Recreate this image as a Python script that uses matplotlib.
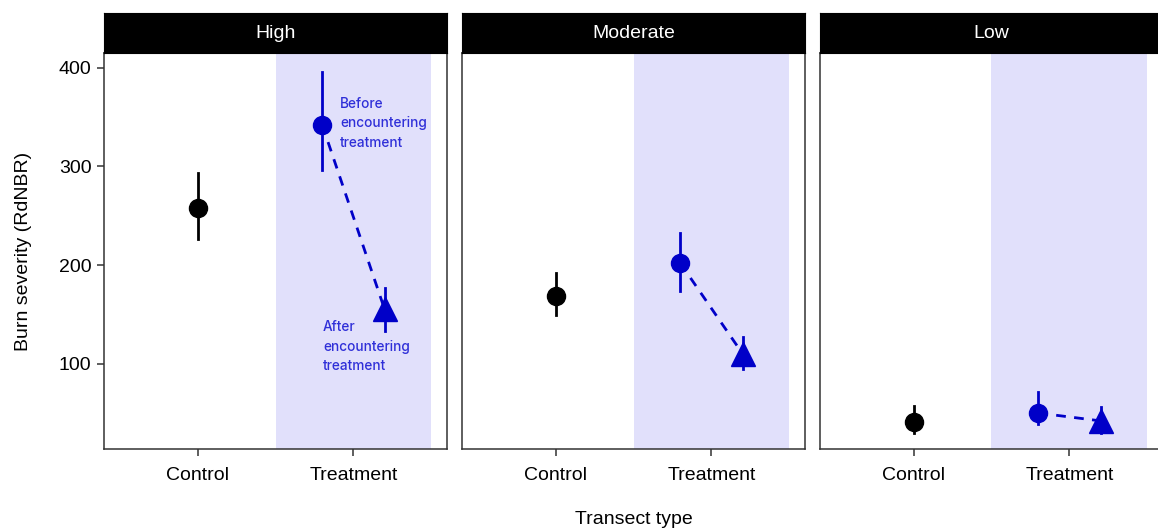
import matplotlib.pyplot as plt

plt.rcParams['font.family'] = ['Liberation Sans', 'DejaVu Sans']

# Burn severity (RdNBR) by severity class and transect type
panels = ["High", "Moderate", "Low"]

control_mean = [258, 169, 41]
control_lo = [226, 149, 30]
control_hi = [293, 192, 57]

before_mean = [342, 202, 50]
before_lo = [296, 174, 39]
before_hi = [396, 233, 71]

after_mean = [155, 110, 42]
after_lo = [133, 95, 30]
after_hi = [177, 127, 56]

tick_labels = ["Control", "Treatment"]

BLUE = "#0000c8"
NOTE_BLUE = "#2f2fd8"
SHADE = "#e1e0fb"
EDGE = "#333333"

W, H = 1158, 529
fig = plt.figure(figsize=(W / 100, H / 100), dpi=100)

panel_left = [104, 462, 820]
panel_w = 343
top, bottom, strip_top = 53, 449, 13

for i, name in enumerate(panels):
    x0 = panel_left[i]
    ax = fig.add_axes([x0 / W, (H - bottom) / H, panel_w / W, (bottom - top) / H])
    st = fig.add_axes([x0 / W, (H - top) / H, panel_w / W, (top - strip_top) / H])
    st.set_facecolor("black")
    st.set_xticks([])
    st.set_yticks([])
    for s in st.spines.values():
        s.set_color("black")
    st.text(0.5, 0.48, name, color="white", fontsize=14, ha="center", va="center",
            transform=st.transAxes)

    ax.axvspan(1.5, 2.5, color=SHADE, lw=0, zorder=0)

    # control
    ax.plot([1, 1], [control_lo[i], control_hi[i]], color="black", lw=2, zorder=3)
    ax.plot(1, control_mean[i], "o", color="black", ms=13, zorder=4)

    # treatment: before -> after
    ax.plot([1.8, 2.2], [before_mean[i], after_mean[i]], color=BLUE, lw=2,
            ls=(0, (3.5, 3)), zorder=2)
    ax.plot([1.8, 1.8], [before_lo[i], before_hi[i]], color=BLUE, lw=2, zorder=3)
    ax.plot(1.8, before_mean[i], "o", color=BLUE, ms=13, zorder=4)
    ax.plot([2.2, 2.2], [after_lo[i], after_hi[i]], color=BLUE, lw=2, zorder=3)
    ax.plot(2.2, after_mean[i], "^", color=BLUE, ms=17, zorder=4)

    ax.set_xlim(0.4, 2.6)
    ax.set_ylim(13.5, 415)
    ax.set_xticks([1, 2])
    ax.set_xticklabels(tick_labels, fontsize=14)
    ax.set_yticks([100, 200, 300, 400])
    ax.tick_params(direction="out", length=5, width=1.1, color=EDGE, labelcolor="black",
                   labelsize=14, pad=4)
    ax.tick_params(axis="x", pad=8)
    for s in ax.spines.values():
        s.set_color(EDGE)
        s.set_linewidth(1.1)
    if i == 0:
        ax.set_ylabel("Burn severity (RdNBR)", fontsize=14, labelpad=19)
        ax.text(1.913, 344, "Before\nencountering\ntreatment", color=NOTE_BLUE,
                fontsize=9.8, family="Inter", fontweight="medium",
                ha="left", va="center", linespacing=1.5)
        ax.text(1.805, 117, "After\nencountering\ntreatment", color=NOTE_BLUE,
                fontsize=9.8, family="Inter", fontweight="medium",
                ha="left", va="center", linespacing=1.5)
    else:
        ax.set_yticklabels([])
        ax.tick_params(axis="y", length=0)

fig.text((462 + panel_w / 2) / W, 1 - 519 / H, "Transect type", fontsize=14,
         ha="center", va="center")

fig.savefig("out.png", dpi=100)
